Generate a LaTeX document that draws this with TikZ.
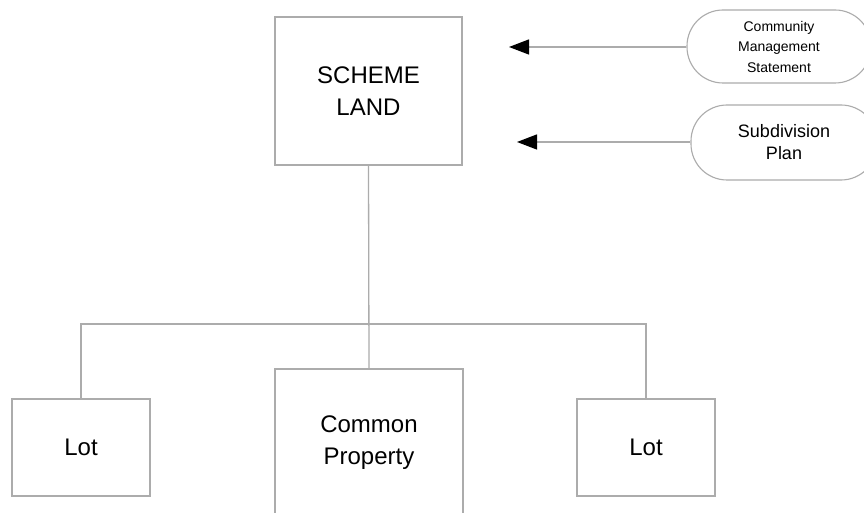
\documentclass[tikz,border=0pt]{standalone}
\usepackage{fontspec}
\setmainfont{Liberation Sans}
\usetikzlibrary{arrows.meta}
\definecolor{edge}{RGB}{172,172,172}
\tikzset{
  box/.style={draw=edge, line width=1.3pt, fill=white, align=center,
    font=\fontsize{24}{32}\selectfont, inner sep=0pt},
  doc/.style={draw=edge, line width=1.1pt, rounded corners=36pt, align=center, inner sep=0pt},
  link/.style={draw=edge, line width=1.3pt},
  feed/.style={draw=edge, line width=1.3pt, -{Triangle[length=20pt,width=15pt,color=black]}}
}
\begin{document}
\begin{tikzpicture}[x=1pt, y=-1pt]
  \useasboundingbox (0,0) rectangle (864,513);
  \clip (0,0) rectangle (864,513);
  \fill[white] (0,0) rectangle (864,513);

  % main parcel and the lots it is divided into
  \node[box, minimum width=187pt, minimum height=148pt] (scheme) at (368.5,91) {SCHEME\\LAND};
  \node[box, minimum width=188pt, minimum height=148pt] (common) at (369,443) {Common\\Property};
  \node[box, minimum width=138pt, minimum height=97pt] (lotA) at (81,447.5) {Lot};
  \node[box, minimum width=138pt, minimum height=97pt] (lotB) at (646,447.5) {Lot};

  % documents that define the scheme
  \node[doc, minimum width=184pt, minimum height=73pt, font=\fontsize{14}{20.5}\selectfont]
    (cms) at (779,46.5) {Community\\Management\\Statement};
  \node[doc, minimum width=186pt, minimum height=75pt, font=\fontsize{18}{22}\selectfont]
    (plan) at (784,142.5) {Subdivision\\Plan};

  \coordinate (cmsTip) at (509,47);
  \coordinate (planTip) at (517,142);
  \draw[feed] (cms.west |- cmsTip) -- (cmsTip);
  \draw[feed] (plan.west |- planTip) -- (planTip);

  % tree of connections
  \coordinate (bar) at (368.5,324);
  \draw[link] (scheme.south) -- (common.north);
  \draw[link] (lotA.north) -- (lotA.north |- bar) -- (lotB.north |- bar) -- (lotB.north);
\end{tikzpicture}
\end{document}
